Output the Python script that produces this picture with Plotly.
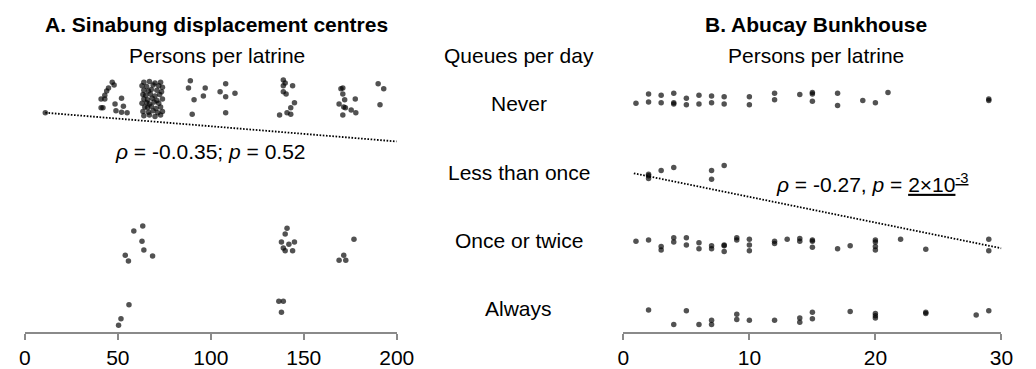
import plotly.graph_objects as go

# Answer categories for "Queues per day", top to bottom
categories = ["Never", "Less than once", "Once or twice", "Always"]
cat_level = [3, 2, 1, 0]

# ---- Panel A: Sinabung displacement centres (persons per latrine) ----
a_never_x = [11, 47, 48, 45, 44, 43, 41, 43, 52, 48.5, 41, 42, 53, 49, 52, 55,
             64, 67, 70, 73, 63, 65.5, 69, 72, 74, 64, 66.5, 68, 71, 73.5,
             63.5, 65, 67.5, 70, 72.5, 64, 66, 68.5, 71, 74, 63, 65.5, 67, 69.5, 72,
             64.5, 66, 68, 70.5, 73, 63.5, 66.5, 69, 71.5, 74, 64, 67, 70, 73,
             89, 88, 97, 96, 91, 90,
             108, 105, 108, 113, 108,
             139, 140, 139, 144, 139, 140.5, 145, 143, 141, 137, 143,
             170, 171, 171, 172, 177.7, 169, 171.5, 172.4, 175.5, 178, 171,
             190, 193, 191]
a_never_j = [-0.19, 0.23, 0.19, 0.15, 0.11, 0.05, 0.0, 0.0, 0.01, -0.07, -0.12, -0.12, -0.10, -0.16, -0.18, -0.19,
             0.23, 0.24, 0.22, 0.23, 0.18, 0.17, 0.19, 0.18, 0.16, 0.12, 0.11, 0.13, 0.12, 0.10,
             0.06, 0.05, 0.07, 0.04, 0.06, 0.0, -0.01, 0.01, -0.02, 0.0, -0.06, -0.05, -0.07, -0.04, -0.06,
             -0.11, -0.12, -0.10, -0.13, -0.11, -0.17, -0.18, -0.16, -0.19, -0.17, -0.23, -0.22, -0.24, -0.22,
             0.25, 0.15, 0.15, 0.04, -0.01, -0.21,
             0.21, 0.10, 0.03, 0.08, -0.19,
             0.26, 0.22, 0.18, 0.18, 0.10, 0.07, -0.05, -0.12, -0.19, -0.22, -0.21,
             0.14, 0.15, 0.07, -0.01, 0.0, -0.07, -0.11, -0.12, -0.15, -0.19, -0.22,
             0.21, 0.14, -0.08]
a_less_x = []
a_less_j = []
a_once_x = [63.4, 58.6, 63, 64, 54, 55.7, 68.7,
            141, 140, 138, 142, 145, 139, 140, 144,
            177, 171.5, 169, 172.6]
a_once_j = [0.26, 0.19, 0.05, -0.07, -0.14, -0.22, -0.15,
            0.23, 0.15, 0.04, 0.01, 0.04, -0.04, -0.08, -0.08,
            0.08, -0.14, -0.21, -0.21]
a_always_x = [56, 51.7, 50.4, 136.6, 139, 138, 145]
a_always_j = [0.18, -0.01, -0.10, 0.23, 0.23, 0.08, -0.22]

# ---- Panel B: Abucay Bunkhouse (persons per latrine) ----
b_never_x = [1, 2, 2, 3, 3, 4, 4, 4, 5, 5, 6, 6, 7, 7, 8, 8, 10, 10, 12, 12,
             14, 15, 15, 15, 17, 17, 19, 20, 21, 29, 29]
b_never_j = [-0.06, 0.07, -0.04, 0.05, -0.05, 0.08, -0.05, -0.07, 0.01, -0.08, 0.05, -0.07,
             0.04, -0.05, 0.03, -0.07, 0.03, -0.08, 0.08, -0.01,
             0.06, 0.09, 0.07, -0.03, 0.08, -0.09, -0.02, -0.05, 0.09, -0.02, 0.0]
b_less_x = [2, 2, 2, 3, 4, 7, 7, 8]
b_less_j = [-0.03, -0.09, -0.05, 0.02, 0.06, 0.02, -0.10, 0.09]
b_once_x = [1, 2, 3, 3, 4, 4, 5, 5, 6, 6, 7, 7, 8, 8, 8, 9, 9, 10, 10, 10,
            12, 12, 13, 14, 14, 15, 15, 15, 17, 18, 20, 20, 20, 20, 22, 24, 29, 29]
b_once_j = [0.05, 0.07, -0.02, -0.07, 0.10, 0.04, 0.10, 0.0, 0.03, -0.05, -0.01, -0.05,
            0.0, -0.01, -0.09, 0.10, 0.07, 0.08, 0.0, -0.08,
            0.05, 0.02, 0.08, 0.09, 0.05, 0.07, 0.05, -0.03, -0.05, -0.01,
            0.07, 0.04, -0.02, -0.07, 0.08, -0.06, 0.08, -0.08]
b_always_x = [2, 4, 5, 6, 7, 7, 9, 9, 10, 12, 14, 14, 15, 15, 18, 20, 20, 20, 24, 24, 28, 29]
b_always_j = [0.11, -0.09, 0.10, -0.09, -0.03, -0.09, 0.05, -0.02, -0.03, -0.03, 0.0, -0.06,
              0.08, -0.01, 0.09, 0.06, 0.03, 0.0, 0.06, 0.08, 0.04, 0.10]

# Fitted trend lines (x, queue level)
a_trend_x = [11, 200]
a_trend_y = [2.812, 2.418]
b_trend_x = [0.83, 30]
b_trend_y = [1.982, 0.955]

a_stat = "<i>ρ</i> = -0.0.35; <i>p</i> = 0.52"
b_stat = "<i>ρ</i> = -0.27, <i>p</i> = <u>2×10<sup>-3</sup></u>"

FONT = "Liberation Sans, Arial, sans-serif"
FS = 21
DOT = dict(color="black", size=5.5, opacity=0.68, line=dict(width=0))
TREND = dict(color="black", width=1.8, dash="1.6px,1.6px")

a_rows = [(a_never_x, a_never_j), (a_less_x, a_less_j), (a_once_x, a_once_j), (a_always_x, a_always_j)]
b_rows = [(b_never_x, b_never_j), (b_less_x, b_less_j), (b_once_x, b_once_j), (b_always_x, b_always_j)]

fig = go.Figure()

for rows, xa in ((a_rows, "x"), (b_rows, "x2")):
    for level, (xs, js) in zip(cat_level, rows):
        if not xs:
            continue
        fig.add_trace(go.Scatter(
            x=xs, y=[level + j for j in js], mode="markers",
            marker=DOT, xaxis=xa, yaxis="y", cliponaxis=False,
            showlegend=False, hoverinfo="x"))

fig.add_trace(go.Scatter(x=a_trend_x, y=a_trend_y, mode="lines", xaxis="x", yaxis="y",
                         line=TREND, showlegend=False))
fig.add_trace(go.Scatter(x=b_trend_x, y=b_trend_y, mode="lines", xaxis="x2", yaxis="y",
                         line=TREND, showlegend=False))

W, H = 1036, 369
axis_common = dict(showline=True, linecolor="#8a8a8a", linewidth=1.5,
                   ticks="outside", ticklen=6, tickwidth=1.5, tickcolor="#8a8a8a",
                   showgrid=False, zeroline=False, anchor="y",
                   tickfont=dict(family=FONT, size=FS, color="black"))

fig.update_layout(
    width=W, height=H, autosize=False, margin=dict(l=0, r=0, t=0, b=0),
    paper_bgcolor="white", plot_bgcolor="white",
    xaxis=dict(domain=[19.3 / W, 400 / W], range=[0, 200],
               tickvals=[0, 50, 100, 150, 200], **axis_common),
    xaxis2=dict(domain=[632 / W, 1019 / W], range=[0, 30],
                tickvals=[0, 10, 20, 30], **axis_common),
    yaxis=dict(domain=[(H - 332) / H, 1], range=[-0.192, 4.356], visible=False),
    font=dict(family=FONT, color="black"),
)

def paper_text(text, cx, cy, bold=False):
    fig.add_annotation(text=f"<b>{text}</b>" if bold else text,
                       x=cx / W, y=1 - cy / H, xref="paper", yref="paper",
                       showarrow=False, xanchor="center", yanchor="middle",
                       font=dict(family=FONT, size=FS, color="black"))

paper_text("A. Sinabung displacement centres", 216, 24, bold=True)
paper_text("Persons per latrine", 216, 55)
paper_text("Queues per day", 525, 55)
paper_text("B. Abucay Bunkhouse", 829, 24, bold=True)
paper_text("Persons per latrine", 829, 55)

for name, cy in zip(categories, [103, 172, 240, 308]):
    paper_text(name, 525, cy)

fig.add_annotation(text=a_stat, x=99.7, y=2.274, xref="x", yref="y", showarrow=False,
                   xanchor="center", yanchor="middle",
                   font=dict(family=FONT, size=FS, color="black"))
fig.add_annotation(text=b_stat, x=19.8, y=1.85, xref="x2", yref="y", showarrow=False,
                   xanchor="center", yanchor="middle",
                   font=dict(family=FONT, size=FS, color="black"))

fig.write_html("out.html", config={"responsive": False})
